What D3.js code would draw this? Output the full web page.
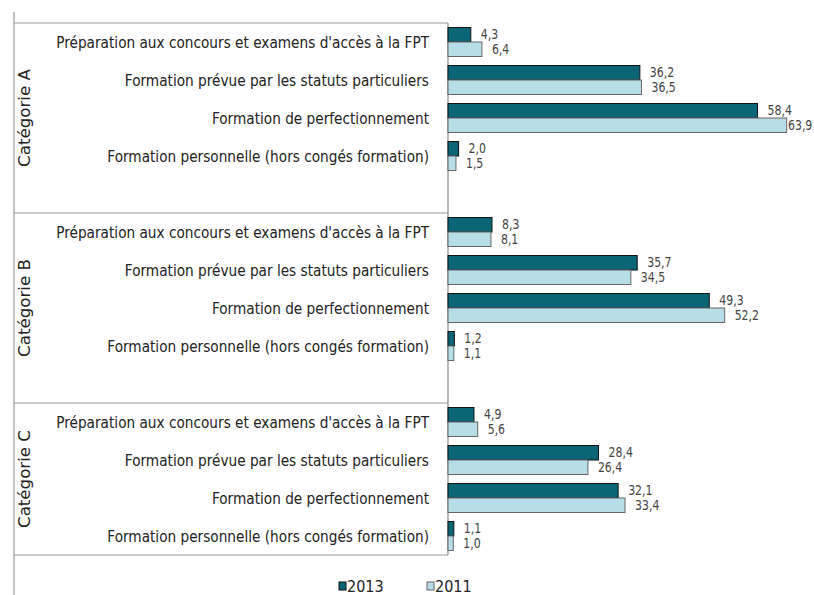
<!DOCTYPE html>
<html>
<head>
<meta charset="utf-8">
<script src="https://cdn.jsdelivr.net/npm/d3@7"></script>
<style>
  body { margin: 0; background: #fff; }
  svg { display: block; }
  text { font-family: "Liberation Sans Narrow", "Arial Narrow", "DejaVu Sans Condensed", sans-serif; }
</style>
</head>
<body>
<div id="chart"></div>
<script>
var groups = ["Catégorie A", "Catégorie B", "Catégorie C"]
var types = [
  "Préparation aux concours et examens d'accès à la FPT",
  "Formation prévue par les statuts particuliers",
  "Formation de perfectionnement",
  "Formation personnelle (hors congés formation)"
]
var years = ["2013", "2011"]
var values2013 = [4.3, 36.2, 58.4, 2.0, 8.3, 35.7, 49.3, 1.2, 4.9, 28.4, 32.1, 1.1]
var values2011 = [6.4, 36.5, 63.9, 1.5, 8.1, 34.5, 52.2, 1.1, 5.6, 26.4, 33.4, 1.0]
var colors = ["#0a6677", "#b6dde8"]
var strokes = ["#111", "#666"]

var width = 814, height = 595
var axisX = 448, topY = 23

// rows: 4 categories per group, one blank row between groups
var rows = []
groups.forEach(function(g, gi) {
  types.forEach(function(t, ti) { rows.push({ group: gi, type: ti, key: gi + "-" + ti }) })
  if (gi < groups.length - 1) rows.push({ group: gi, type: -1, key: gi + "-gap" })
})

var y = d3.scaleBand().domain(rows.map(function(r) { return r.key })).range([topY, topY + rows.length * 38])
var yInner = d3.scaleBand().domain(years).range([4.5, 33.5])
var x = d3.scaleLinear().domain([0, 70]).range([axisX, axisX + 371])
var fmt = function(v) { return d3.format(".1f")(v).replace(".", ",") }

var svg = d3.select("#chart").append("svg")
  .attr("width", width)
  .attr("height", height)

var data = []
rows.filter(function(r) { return r.type >= 0 }).forEach(function(r) {
  var i = r.group * 4 + r.type
  data.push({ key: r.key, year: "2013", value: values2013[i], s: 0 })
  data.push({ key: r.key, year: "2011", value: values2011[i], s: 1 })
})

// frame lines
var line = svg.append("g").attr("stroke", "#9a9a9a").attr("stroke-width", 1.2)
line.append("line").attr("x1", 14).attr("x2", 14).attr("y1", 12).attr("y2", height)
var bounds = [topY]
groups.forEach(function(g, gi) {
  var lastKey = gi < groups.length - 1 ? gi + "-gap" : gi + "-3"
  bounds.push(y(lastKey) + y.bandwidth())
})
line.selectAll(".sep").data(bounds).enter().append("line")
  .attr("x1", 14).attr("x2", axisX)
  .attr("y1", function(d) { return d }).attr("y2", function(d) { return d })
svg.append("line")
  .attr("x1", axisX).attr("x2", axisX)
  .attr("y1", topY).attr("y2", bounds[bounds.length - 1])
  .attr("stroke", "#888").attr("stroke-width", 1.2)

// bars
svg.append("g").selectAll("rect").data(data).enter().append("rect")
  .attr("x", x(0))
  .attr("y", function(d) { return y(d.key) + yInner(d.year) })
  .attr("width", function(d) { return x(d.value) - x(0) })
  .attr("height", yInner.bandwidth())
  .attr("fill", function(d) { return colors[d.s] })
  .attr("stroke", function(d) { return strokes[d.s] })
  .attr("stroke-width", 1)

// value labels (narrow look of the original)
svg.append("g").selectAll("text").data(data).enter().append("text")
  .attr("transform", function(d) {
    var lx = Math.min(x(d.value) + 10, width - 26)
    var ly = y(d.key) + yInner(d.year) + yInner.bandwidth() / 2
    return "translate(" + lx + "," + ly + ") scale(0.9,1)"
  })
  .attr("dy", "0.35em")
  .attr("font-size", 13.5)
  .attr("fill", "#444")
  .text(function(d) { return fmt(d.value) })

// category labels
svg.append("g").selectAll("text").data(rows.filter(function(r) { return r.type >= 0 })).enter().append("text")
  .attr("transform", function(r) {
    return "translate(429," + (y(r.key) + y.bandwidth() / 2) + ") scale(0.95,1)"
  })
  .attr("dy", "0.35em")
  .attr("text-anchor", "end")
  .attr("font-size", 16)
  .attr("fill", "#222")
  .text(function(r) { return types[r.type] })

// group labels
svg.append("g").selectAll("text").data(groups).enter().append("text")
  .attr("transform", function(g, gi) {
    return "translate(25," + (bounds[gi] + bounds[gi + 1]) / 2 + ") rotate(-90)"
  })
  .attr("text-anchor", "middle")
  .attr("dy", "0.35em")
  .attr("font-size", 15.5)
  .attr("textLength", 98)
  .attr("lengthAdjust", "spacingAndGlyphs")
  .attr("fill", "#222")
  .text(function(g) { return g })

// legend
var legend = svg.append("g").selectAll("g").data(years).enter().append("g")
  .attr("transform", function(d, i) { return "translate(" + (339 + i * 88) + ",586)" })
legend.append("rect")
  .attr("x", 0).attr("y", -4).attr("width", 7).attr("height", 8)
  .attr("fill", function(d, i) { return colors[i] })
  .attr("stroke", function(d, i) { return strokes[i] })
legend.append("text")
  .attr("x", 8).attr("dy", "0.35em")
  .attr("font-size", 16)
  .attr("fill", "#222")
  .text(function(d) { return d })
</script>
</body>
</html>
